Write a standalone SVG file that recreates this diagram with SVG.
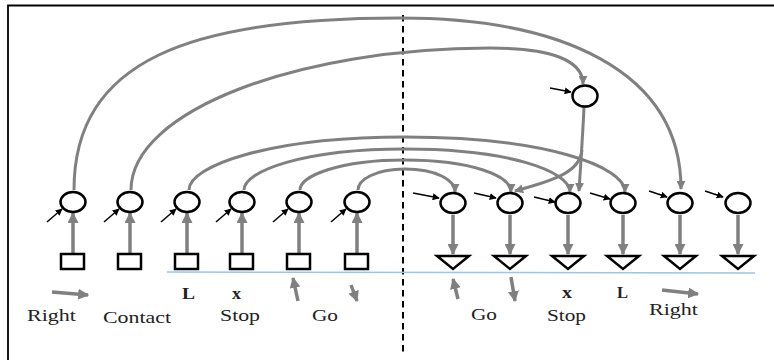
<svg xmlns="http://www.w3.org/2000/svg" width="774" height="360" viewBox="0 0 774 360">
<defs>
<marker id="ga" viewBox="0 0 10 10" refX="9" refY="5" markerWidth="9" markerHeight="9" markerUnits="userSpaceOnUse" orient="auto"><path d="M0,0 L10,5 L0,10 z" fill="#808080"/></marker>
<marker id="gb" viewBox="0 0 10 10" refX="9" refY="5" markerWidth="11" markerHeight="11" markerUnits="userSpaceOnUse" orient="auto"><path d="M0,0 L10,5 L0,10 z" fill="#808080"/></marker>
<marker id="ba" viewBox="0 0 10 10" refX="9" refY="5" markerWidth="7" markerHeight="7" markerUnits="userSpaceOnUse" orient="auto"><path d="M0,0 L10,5 L0,10 z" fill="#000"/></marker>
</defs>
<style>
.n{fill:#fff;stroke:#000;stroke-width:2.5}
.arc{fill:none;stroke:#808080;stroke-width:3;marker-end:url(#ga)}
.v{fill:none;stroke:#808080;stroke-width:3.5;marker-end:url(#gb)}
.b{fill:none;stroke:#000;stroke-width:1.5;marker-end:url(#ba)}
.t{font-family:"Liberation Serif","Times New Roman",serif;font-size:17px;fill:#222}
.tb{font-family:"Liberation Serif","Times New Roman",serif;font-size:17px;font-weight:bold;fill:#222}
</style>
<rect width="774" height="360" fill="#fff"/>
<path d="M8,360 V5.5 H774" fill="none" stroke="#000" stroke-width="1.8"/>
<line x1="403" y1="15" x2="403" y2="352" stroke="#000" stroke-width="2" stroke-dasharray="6.5,4.5"/>
<line x1="167" y1="272" x2="755" y2="273" stroke="#9dc3e6" stroke-width="1.5"/>

<g id="connectors">
<path class="arc" d="M74,190 C74,60 190,18 400,18 C560,18 681,70 681,189"/>
<path class="arc" d="M131,190 C131,110 300,48 490,48 C550,48 583,60 583,84"/>
<path class="arc" d="M584,107 C583,130 581,160 579,191"/>
<path class="arc" d="M582,150 C580,172 555,180 515,191"/>
<path class="arc" d="M189,190 C189,166 269,137 405,137 C544,137 625,166 625,192"/>
<path class="arc" d="M244,190 C244,171 304,149 405,149 C508,149 570,171 570,192"/>
<path class="arc" d="M300,190 C300,176 339,160 405,160 C472,160 511,176 511,192"/>
<path class="arc" d="M358,190 C358,180 375,169 405,169 C436,169 455,180 455,192"/>
<path class="v" d="M73,253 V213"/>
<path class="v" d="M130,253 V213"/>
<path class="v" d="M187,253 V213"/>
<path class="v" d="M242,253 V213"/>
<path class="v" d="M299,253 V213"/>
<path class="v" d="M357,253 V213"/>
<path class="v" d="M453,215 V254"/>
<path class="v" d="M510,215 V254"/>
<path class="v" d="M568,215 V254"/>
<path class="v" d="M623,215 V254"/>
<path class="v" d="M680,215 V254"/>
<path class="v" d="M738,215 V254"/>
<path class="b" d="M47,222 L62,209"/>
<path class="b" d="M104,222 L119,209"/>
<path class="b" d="M161,222 L176,209"/>
<path class="b" d="M216,222 L231,209"/>
<path class="b" d="M273,222 L288,209"/>
<path class="b" d="M331,222 L346,209"/>
<path class="b" d="M413,193 L439,198"/>
<path class="b" d="M474,193 L496,198"/>
<path class="b" d="M534,197 L555,202"/>
<path class="b" d="M590,193 L610,199"/>
<path class="b" d="M649,191 L667,197"/>
<path class="b" d="M705,191 L723,197"/>
<path class="b" d="M550,88 L571,92"/>
<path class="v" d="M52,292 L88,295"/>
<path class="v" d="M298,301 L293,278"/>
<path class="v" d="M351,285 L357,301"/>
<path class="v" d="M458,299 L453,279"/>
<path class="v" d="M511,277 L515,301"/>
<path class="v" d="M662,290 L698,294"/>
</g>

<g id="top"><ellipse class="n" cx="585" cy="96" rx="12.5" ry="10.5"/></g>
<g id="in1"><ellipse class="n" cx="73" cy="202" rx="12.5" ry="10"/><rect class="n" x="61" y="254" width="23" height="15"/></g>
<g id="in2"><ellipse class="n" cx="130" cy="202" rx="12.5" ry="10"/><rect class="n" x="118" y="254" width="23" height="15"/></g>
<g id="in3"><ellipse class="n" cx="187" cy="202" rx="12.5" ry="10"/><rect class="n" x="175" y="254" width="23" height="15"/></g>
<g id="in4"><ellipse class="n" cx="242" cy="202" rx="12.5" ry="10"/><rect class="n" x="230" y="254" width="23" height="15"/></g>
<g id="in5"><ellipse class="n" cx="299" cy="202" rx="12.5" ry="10"/><rect class="n" x="287" y="254" width="23" height="15"/></g>
<g id="in6"><ellipse class="n" cx="357" cy="202" rx="12.5" ry="10"/><rect class="n" x="345" y="254" width="23" height="15"/></g>
<g id="out1"><ellipse class="n" cx="453" cy="203" rx="12.5" ry="10"/><polygon class="n" points="437,256 469,256 453,269"/></g>
<g id="out2"><ellipse class="n" cx="510" cy="203" rx="12.5" ry="10"/><polygon class="n" points="494,256 526,256 510,269"/></g>
<g id="out3"><ellipse class="n" cx="568" cy="203" rx="12.5" ry="10"/><polygon class="n" points="552,256 584,256 568,269"/></g>
<g id="out4"><ellipse class="n" cx="623" cy="203" rx="12.5" ry="10"/><polygon class="n" points="607,256 639,256 623,269"/></g>
<g id="out5"><ellipse class="n" cx="680" cy="203" rx="12.5" ry="10"/><polygon class="n" points="664,256 696,256 680,269"/></g>
<g id="out6"><ellipse class="n" cx="738" cy="203" rx="12.5" ry="10"/><polygon class="n" points="722,256 754,256 738,269"/></g>

<g id="labels">
<text class="t" x="27" y="321" textLength="49" lengthAdjust="spacingAndGlyphs">Right</text>
<text class="t" x="103" y="323" textLength="68" lengthAdjust="spacingAndGlyphs">Contact</text>
<text class="tb" x="182" y="299" textLength="13" lengthAdjust="spacingAndGlyphs">L</text>
<text class="tb" x="232" y="299" textLength="9" lengthAdjust="spacingAndGlyphs">x</text>
<text class="t" x="220" y="321" textLength="40" lengthAdjust="spacingAndGlyphs">Stop</text>
<text class="t" x="312" y="321" textLength="26" lengthAdjust="spacingAndGlyphs">Go</text>
<text class="t" x="471" y="320" textLength="26" lengthAdjust="spacingAndGlyphs">Go</text>
<text class="tb" x="562" y="298" textLength="10" lengthAdjust="spacingAndGlyphs">x</text>
<text class="t" x="547" y="321" textLength="39" lengthAdjust="spacingAndGlyphs">Stop</text>
<text class="tb" x="617" y="298" textLength="11" lengthAdjust="spacingAndGlyphs">L</text>
<text class="t" x="649" y="315" textLength="49" lengthAdjust="spacingAndGlyphs">Right</text>
</g>
</svg>
